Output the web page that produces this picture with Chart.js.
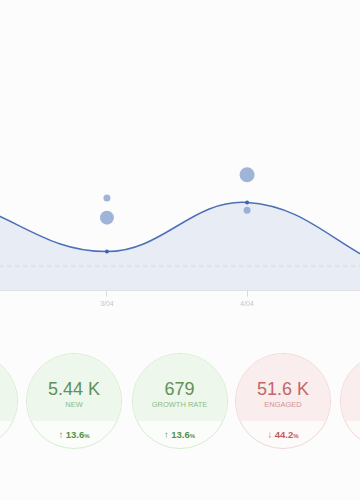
<!DOCTYPE html>
<html>
<head>
<meta charset="utf-8">
<script src="https://cdn.jsdelivr.net/npm/chart.js@4"></script>
<style>
  html, body { margin: 0; padding: 0; }
  body {
    width: 360px; height: 500px; overflow: hidden; position: relative;
    background: #fcfcfc; font-family: "Liberation Sans", Arial, sans-serif;
  }
  #chartBox { position: absolute; left: -43px; top: 0; width: 440px; height: 311px; }
  .stat {
    position: absolute; top: 353px; width: 94px; height: 94px; border-radius: 50%;
    border: 1px solid; overflow: hidden; text-align: center;
  }
  .stat .top { position: absolute; left: 0; right: 0; top: 0; height: 67px; }
  .stat .val { position: absolute; left: 0; right: 0; top: 25px; font-size: 18px; line-height: 20px; }
  .stat .lbl { position: absolute; left: 0; right: 0; top: 46px; font-size: 7.5px; line-height: 10px; }
  .stat .chg { position: absolute; left: 0; right: 0; top: 75px; font-size: 9.5px; line-height: 12px; font-weight: bold; }
  .stat .chg small { font-size: 6px; }
  .green { border-color: #d6ecd0; background: #fbfdfa; }
  .green .top { background: #eef7eb; }
  .green .val { color: #5f9159; }
  .green .lbl { color: #8fbb88; }
  .green .chg { color: #52904a; }
  .red { border-color: #f2d6d6; background: #fdfafa; }
  .red .top { background: #f9eded; }
  .red .val { color: #c46767; }
  .red .lbl { color: #d69292; }
  .red .chg { color: #c45a5a; }
</style>
</head>
<body>
<div id="chartBox"><canvas id="trend"></canvas></div>
<div id="stats"></div>
<script>
// chart data
const dates = ['2/04', '3/04', '4/04', '5/04'];
const visits = [31.4, 13.9, 31.4, 7.9];
const target = [8.7, 8.7, 8.7, 8.7];
const bubbleDates = ['3/04', '3/04', '4/04', '4/04'];
const bubbleValues = [33.0, 26.0, 41.3, 28.6];
const bubbleSizes = [3.5, 7, 7.5, 3.5];

// stat circles
const statValues = ['', '5.44 K', '679', '51.6 K', ''];
const statLabels = ['', 'NEW', 'GROWTH RATE', 'ENGAGED', ''];
const statChanges = ['', '13.6', '13.6', '44.2', ''];
const statTrend = ['up', 'up', 'up', 'down', 'down'];

const stats = document.getElementById('stats');
const centers = [-30.5, 74, 179.5, 283, 387.5];
statValues.forEach(function (v, i) {
    const el = document.createElement('div');
    el.className = 'stat ' + (statTrend[i] === 'up' ? 'green' : 'red');
    el.style.left = (centers[i] - 48) + 'px';
    let html = '<div class="top"></div>';
    if (v) {
        const arrow = statTrend[i] === 'up' ? '\u2191' : '\u2193';
        html += '<div class="val">' + v + '</div>' +
            '<div class="lbl">' + statLabels[i] + '</div>' +
            '<div class="chg">' + arrow + ' ' + statChanges[i] + '<small>%</small></div>';
    }
    el.innerHTML = html;
    stats.appendChild(el);
});

const ctx = document.getElementById('trend').getContext('2d');
const bubbles = bubbleDates.map(function (d, i) {
    return { x: d, y: bubbleValues[i], r: bubbleSizes[i] };
});

new Chart(ctx, {
    type: 'line',
    data: {
        labels: dates,
        datasets: [{
            type: 'bubble',
            data: bubbles,
            backgroundColor: 'rgba(120,150,203,0.7)',
            borderWidth: 0,
            hoverRadius: 0
        }, {
            data: target,
            borderColor: '#cfe1d1',
            borderWidth: 1,
            borderDash: [5, 3],
            pointRadius: 0,
            fill: false
        }, {
            data: visits,
            borderColor: '#4b70b7',
            borderWidth: 1.5,
            tension: 0.4,
            pointRadius: 2,
            pointBackgroundColor: '#3d64ae',
            pointBorderWidth: 0,
            fill: 'start',
            backgroundColor: '#e8edf5'
        }]
    },
    options: {
        responsive: true,
        maintainAspectRatio: false,
        animation: false,
        layout: { padding: { top: 10 } },
        scales: {
            x: {
                grid: { drawOnChartArea: false, tickLength: 6, color: '#d9d9d9' },
                border: { color: '#dde0e4' },
                ticks: { color: '#c4c4c4', font: { size: 7 }, maxRotation: 0, autoSkip: false }
            },
            y: { display: false, min: 0, max: 100 }
        },
        plugins: {
            legend: { display: false },
            tooltip: { enabled: false }
        }
    }
});
</script>
</body>
</html>
